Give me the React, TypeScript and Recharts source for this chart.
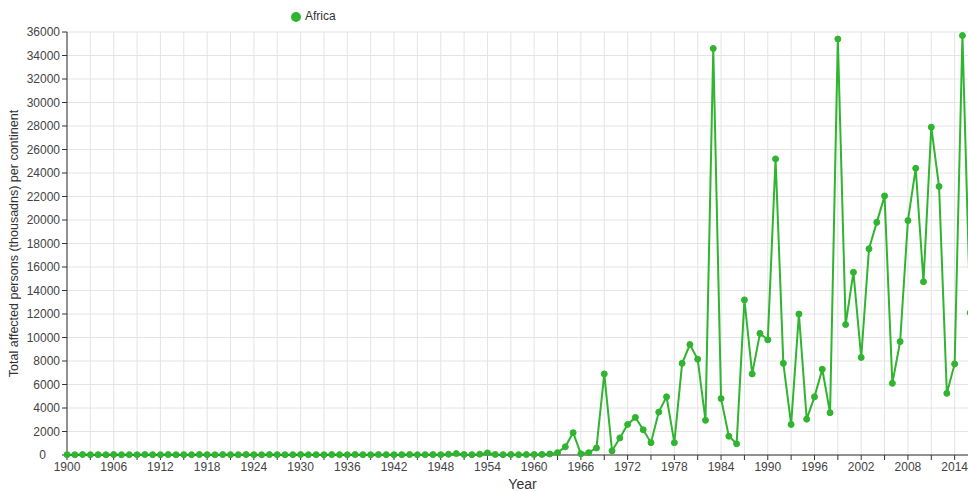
import { CartesianGrid, Legend, Line, LineChart, XAxis, YAxis } from "recharts";

const years = [
  1900, 1901, 1902, 1903, 1904, 1905, 1906, 1907, 1908, 1909,
  1910, 1911, 1912, 1913, 1914, 1915, 1916, 1917, 1918, 1919,
  1920, 1921, 1922, 1923, 1924, 1925, 1926, 1927, 1928, 1929,
  1930, 1931, 1932, 1933, 1934, 1935, 1936, 1937, 1938, 1939,
  1940, 1941, 1942, 1943, 1944, 1945, 1946, 1947, 1948, 1949,
  1950, 1951, 1952, 1953, 1954, 1955, 1956, 1957, 1958, 1959,
  1960, 1961, 1962, 1963, 1964, 1965, 1966, 1967, 1968, 1969,
  1970, 1971, 1972, 1973, 1974, 1975, 1976, 1977, 1978, 1979,
  1980, 1981, 1982, 1983, 1984, 1985, 1986, 1987, 1988, 1989,
  1990, 1991, 1992, 1993, 1994, 1995, 1996, 1997, 1998, 1999,
  2000, 2001, 2002, 2003, 2004, 2005, 2006, 2007, 2008, 2009,
  2010, 2011, 2012, 2013, 2014, 2015, 2016,
];

// thousands of affected persons, Africa
const africa = [
  30, 20, 40, 25, 30, 20, 35, 25, 30, 20,
  40, 30, 25, 35, 20, 30, 25, 40, 30, 20,
  35, 30, 25, 40, 30, 20, 35, 30, 25, 30,
  40, 25, 30, 20, 35, 30, 25, 40, 30, 20,
  35, 30, 25, 30, 40, 25, 30, 35, 30, 60,
  120, 40, 30, 70, 180, 50, 30, 40, 30, 35,
  40, 50, 90, 200, 700, 1900, 100, 200, 600, 6900,
  350, 1450, 2600, 3200, 2150, 1050, 3650, 4950, 1050, 7800,
  9400, 8150, 2950, 34600, 4800, 1600, 950, 13200, 6900, 10350,
  9800, 25200, 7800, 2600, 12000, 3050, 4950, 7300, 3600, 35400,
  11100, 15550, 8300, 17550, 19800, 22050, 6100, 9650, 19950, 24400,
  14750, 27900, 22850, 5250, 7750, 35700, 12100,
];

const xTicks = [
  1900, 1903, 1906, 1909, 1912, 1915, 1918, 1921, 1924, 1927,
  1930, 1933, 1936, 1939, 1942, 1945, 1948, 1951, 1954, 1957,
  1960, 1963, 1966, 1969, 1972, 1975, 1978, 1981, 1984, 1987,
  1990, 1993, 1996, 1999, 2002, 2005, 2008, 2011, 2014, 2017,
];

const yTicks = [
  0, 2000, 4000, 6000, 8000, 10000, 12000, 14000, 16000, 18000,
  20000, 22000, 24000, 26000, 28000, 30000, 32000, 34000, 36000,
];

const data = years.map((year, i) => ({ year, africa: africa[i] }));

const font = "'Liberation Sans', Arial, sans-serif";
const green = "#2fb52f";

// the "0" label sits further left, clear of the first year label
function YTick(props: any) {
  const { x, y, payload } = props;
  const shift = payload.value === 0 ? -14 : 0;
  return (
    <text
      x={x + shift}
      y={y}
      dy="0.355em"
      textAnchor="end"
      fill="#444"
      fontSize={12}
      fontFamily={font}
    >
      {payload.value}
    </text>
  );
}

export default function App() {
  return (
    <div
      style={{
        position: "absolute",
        left: 0,
        top: 0,
        width: 968,
        height: 492,
        overflow: "hidden",
        background: "#fff",
        fontFamily: font,
      }}
    >
      <LineChart
        width={992}
        height={492}
        data={data}
        margin={{ top: 32, right: 14, left: 10, bottom: 7 }}
      >
        <CartesianGrid stroke="#e4e4e4" />
        <XAxis
          dataKey="year"
          type="number"
          domain={[1900, 2017]}
          ticks={xTicks}
          interval={0}
          height={30}
          tickSize={5}
          tickMargin={2}
          stroke="#333"
          tick={{ fill: "#444", fontSize: 12, fontFamily: font }}
          tickFormatter={(v: number) => ((v - 1900) % 6 === 0 ? String(v) : "")}
          label={{
            value: "Year",
            position: "insideBottom",
            offset: -4,
            fill: "#333",
            style: { fontFamily: font, fontSize: 14 },
          }}
        />
        <YAxis
          type="number"
          domain={[0, 36000]}
          ticks={yTicks}
          interval={0}
          width={57}
          tickSize={5}
          tickMargin={2}
          stroke="#333"
          tick={<YTick />}
          label={{
            value: "Total affected persons (thousadns) per continent",
            angle: -90,
            position: "insideLeft",
            offset: 0,
            dx: 4,
            fill: "#333",
            style: { fontFamily: font, fontSize: 12.5, textAnchor: "middle" },
          }}
        />
        <Legend
          layout="vertical"
          align="center"
          verticalAlign="middle"
          iconType="circle"
          iconSize={10}
          wrapperStyle={{ top: 9, left: 291, width: "auto", fontSize: 12, fontFamily: font }}
          formatter={(value: string) => <span style={{ color: "#333" }}>{value}</span>}
        />
        <Line
          type="linear"
          dataKey="africa"
          name="Africa"
          stroke={green}
          strokeWidth={2}
          dot={{ r: 3, fill: green, stroke: green, strokeWidth: 1 }}
          legendType="circle"
          isAnimationActive={false}
        />
      </LineChart>
    </div>
  );
}
